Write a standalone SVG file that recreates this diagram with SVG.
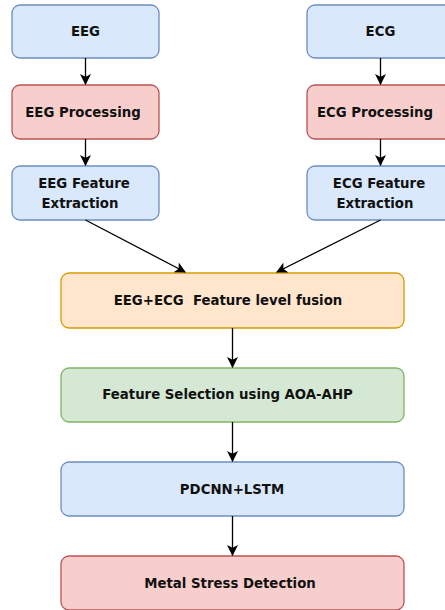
<svg xmlns="http://www.w3.org/2000/svg" width="445" height="610" viewBox="0 0 445 610">
<defs>
<marker id="ah" viewBox="0 0 10 10" refX="9" refY="5" markerWidth="11" markerHeight="11" markerUnits="userSpaceOnUse" orient="auto">
<path d="M0,0 L10,5 L0,10 L2.5,5 Z" fill="#000"/>
</marker>
<style>
.blue{fill:#dae8fc;stroke:#6c8ebf;stroke-width:1.3}
.red{fill:#f8cecc;stroke:#b85450;stroke-width:1.3}
.orange{fill:#ffe6cc;stroke:#d79b00;stroke-width:1.3}
.green{fill:#d5e8d4;stroke:#82b366;stroke-width:1.3}
text{font-family:"DejaVu Sans",sans-serif;font-weight:bold;font-size:13.3px;fill:#111;text-anchor:middle;dominant-baseline:central}
.c{stroke:#000;stroke-width:1.3;fill:none;marker-end:url(#ah)}
</style>
</defs>
<rect width="445" height="610" fill="#fff"/>
<g id="eeg"><rect class="blue" x="12" y="5" width="147" height="53" rx="8"/><text x="85.5" y="31">EEG</text></g>
<g id="eeg-proc"><rect class="red" x="12" y="85" width="147" height="54" rx="8"/><text x="83" y="112">EEG Processing</text></g>
<g id="eeg-feat"><rect class="blue" x="12" y="166" width="147" height="54" rx="8"/><text x="84" y="183">EEG Feature</text><text x="80" y="203">Extraction</text></g>
<g id="ecg"><rect class="blue" x="307" y="5" width="147" height="53" rx="8"/><text x="380.5" y="31">ECG</text></g>
<g id="ecg-proc"><rect class="red" x="307" y="85" width="147" height="54" rx="8"/><text x="375" y="112">ECG Processing</text></g>
<g id="ecg-feat"><rect class="blue" x="307" y="166" width="147" height="54" rx="8"/><text x="379" y="183">ECG Feature</text><text x="375" y="203">Extraction</text></g>
<g id="fusion"><rect class="orange" x="61" y="273" width="343" height="55" rx="8"/><text x="228" y="300" xml:space="preserve">EEG+ECG  Feature level fusion</text></g>
<g id="selection"><rect class="green" x="61" y="368" width="343" height="54" rx="8"/><text x="227.5" y="394.5">Feature Selection using AOA-AHP</text></g>
<g id="pdcnn"><rect class="blue" x="61" y="462" width="343" height="54" rx="8"/><text x="232" y="489">PDCNN+LSTM</text></g>
<g id="detect"><rect class="red" x="61" y="556" width="343" height="54" rx="8"/><text x="230" y="583">Metal Stress Detection</text></g>
<g id="connectors">
<line class="c" x1="85.5" y1="58" x2="85.5" y2="84"/>
<line class="c" x1="85.5" y1="139" x2="85.5" y2="165"/>
<line class="c" x1="380.5" y1="58" x2="380.5" y2="84"/>
<line class="c" x1="380.5" y1="139" x2="380.5" y2="165"/>
<line class="c" x1="85.5" y1="220" x2="185" y2="272"/>
<line class="c" x1="380.5" y1="220" x2="277" y2="272"/>
<line class="c" x1="232.5" y1="328" x2="232.5" y2="367"/>
<line class="c" x1="232.5" y1="422" x2="232.5" y2="461"/>
<line class="c" x1="232.5" y1="516" x2="232.5" y2="555"/>
</g>
</svg>
